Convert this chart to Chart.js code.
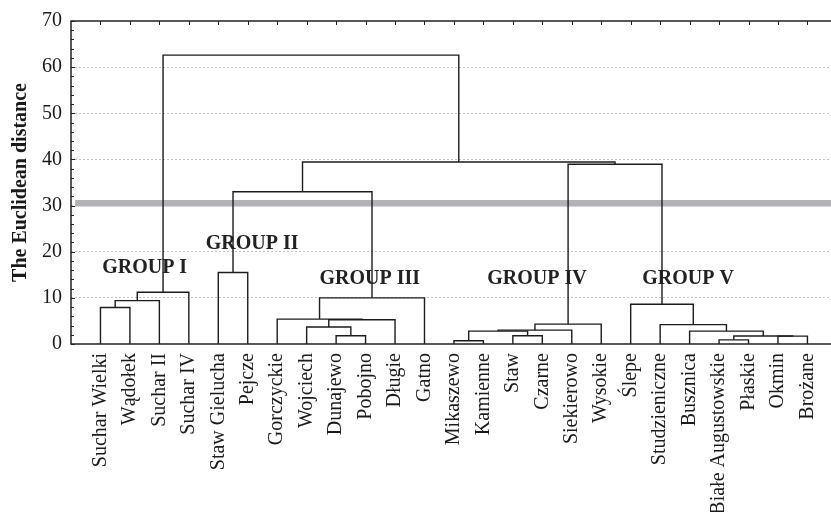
<!DOCTYPE html>
<html>
<head>
<meta charset="utf-8">
<script src="https://cdn.jsdelivr.net/npm/chart.js@4/dist/chart.umd.min.js"></script>
<style>
body{margin:0;background:#fff;}
</style>
</head>
<body>
<canvas id="dendro" width="831" height="512"></canvas>
<script>

/* DATA */

const leaves = ["Suchar Wielki","Wądołek","Suchar II","Suchar IV","Staw Gielucha","Pejcze",
"Gorczyckie","Wojciech","Dunajewo","Pobojno","Długie","Gatno",
"Mikaszewo","Kamienne","Staw","Czarne","Siekierowo","Wysokie",
"Ślepe","Studzieniczne","Busznica","Białe Augustowskie","Płaskie","Okmin","Brożane"];

// merges: positive = leaf number, negative = earlier merge number
const mergeLeft  = [1,-1,-2,5,9,8,-6,7,-8,-4,13,15,-11,-13,-14,22,24,-16,21,20,19,-15,-10,-3];
const mergeRight = [2,3,4,6,10,-5,11,-7,12,-9,14,16,-12,17,18,23,25,-17,-18,-19,-20,-21,-22,-23];
const mergeHeight = [7.9,9.4,11.2,15.5,1.8,3.7,5.25,5.4,10.0,33.0,0.7,1.8,2.8,3.0,4.3,0.9,1.7,1.75,2.8,4.2,8.6,38.95,39.45,62.6];

const cutLevel = 30.5;

const groupNames = ["GROUP I","GROUP II","GROUP III","GROUP IV","GROUP V"];
const groupAt = [[2.5,16.4],[6.15,21.7],[10.14,14.2],[15.82,14.2],[20.95,14.2]];

const yTicks = [0,10,20,30,40,50,60,70];

/* BUILD LINKS */

const pos = [];
const hgt = [];

function node(ref){
if(ref>0) return {x:ref,y:0};
return {x:pos[-ref-1],y:hgt[-ref-1]};
}

const datasets = [];

mergeLeft.forEach((l,i)=>{
const a = node(l);
const b = node(mergeRight[i]);
const h = mergeHeight[i];
pos.push((a.x+b.x)/2);
hgt.push(h);
datasets.push({
data:[{x:a.x,y:a.y},{x:a.x,y:h},{x:b.x,y:h},{x:b.x,y:b.y}],
borderColor:"#1c1c1c",
borderWidth:1.4,
pointRadius:0,
tension:0,
fill:false,
order:0
});
});

datasets.push({
data:[{x:0.14,y:cutLevel},{x:25.8,y:cutLevel}],
borderColor:"#b2b2b6",
borderWidth:6.5,
pointRadius:0,
fill:false,
order:5
});

/* FRAME, TICKS, GROUP LABELS */

const framePlugin = {
id:"frame",
beforeDatasetsDraw(chart){
const c = chart.ctx;
const xs = chart.scales.x;
const ys = chart.scales.y;
c.save();
c.font = "bold 20px 'Liberation Serif'";
c.fillStyle = "#222";
c.textAlign = "center";
c.textBaseline = "middle";
groupNames.forEach((g,i)=>{
c.fillText(g,xs.getPixelForValue(groupAt[i][0]),ys.getPixelForValue(groupAt[i][1]));
});
c.restore();
},
afterDraw(chart){
const c = chart.ctx;
const a = chart.chartArea;
const xs = chart.scales.x;
const ys = chart.scales.y;
c.save();
c.strokeStyle = "#222";
c.lineWidth = 1.5;
c.strokeRect(a.left,a.top,a.right-a.left+2,a.bottom-a.top);
c.lineWidth = 1;
c.beginPath();
for(let v=0;v<=70;v+=2){
const py = Math.round(ys.getPixelForValue(v))+0.5;
c.moveTo(a.left,py);
c.lineTo(a.left+(v%10===0?4:3),py);
}
leaves.forEach((_,i)=>{
const px = Math.round(xs.getPixelForValue(i+1))+0.5;
c.moveTo(px,a.top);
c.lineTo(px,a.top+4);
});
c.stroke();
c.restore();
}
};

/* CHART */

new Chart(document.getElementById("dendro"),{
type:"line",
data:{datasets:datasets},
plugins:[framePlugin],
options:{
responsive:false,
animation:false,
layout:{padding:{top:21,left:0,right:0,bottom:0}},
plugins:{legend:{display:false},tooltip:{enabled:false}},
scales:{
x:{
type:"linear",
min:0,
max:25.8,
afterBuildTicks(scale){
scale.ticks = leaves.map((_,i)=>({value:i+1}));
},
afterFit(scale){
scale.height = 168;
scale.paddingLeft = 0;
scale.paddingRight = 0;
},
grid:{display:false,drawTicks:false},
border:{display:false},
ticks:{
autoSkip:false,
minRotation:90,
maxRotation:90,
padding:9,
color:"#1a1a1a",
font:{family:"'Liberation Serif'",size:20},
callback:(v)=>leaves[v-1]
}
},
y:{
type:"linear",
min:0,
max:70,
afterBuildTicks(scale){
scale.ticks = yTicks.map(v=>({value:v}));
},
afterFit(scale){
scale.width = 71;
scale.paddingTop = 0;
scale.paddingBottom = 0;
},
grid:{
drawTicks:false,
color:(ctx)=>(ctx.tick && (ctx.tick.value===0 || ctx.tick.value===70)) ? "rgba(0,0,0,0)" : "#c4c4c4",
lineWidth:1
},
border:{display:false,dash:[2,2]},
ticks:{
padding:9,
color:"#1a1a1a",
font:{family:"'Liberation Serif'",size:20}
},
title:{
display:true,
text:"The Euclidean distance",
color:"#1a1a1a",
font:{family:"'Liberation Serif'",size:20,weight:"bold"},
padding:{top:9,bottom:0}
}
}
}
}
});

</script>
</body>
</html>
